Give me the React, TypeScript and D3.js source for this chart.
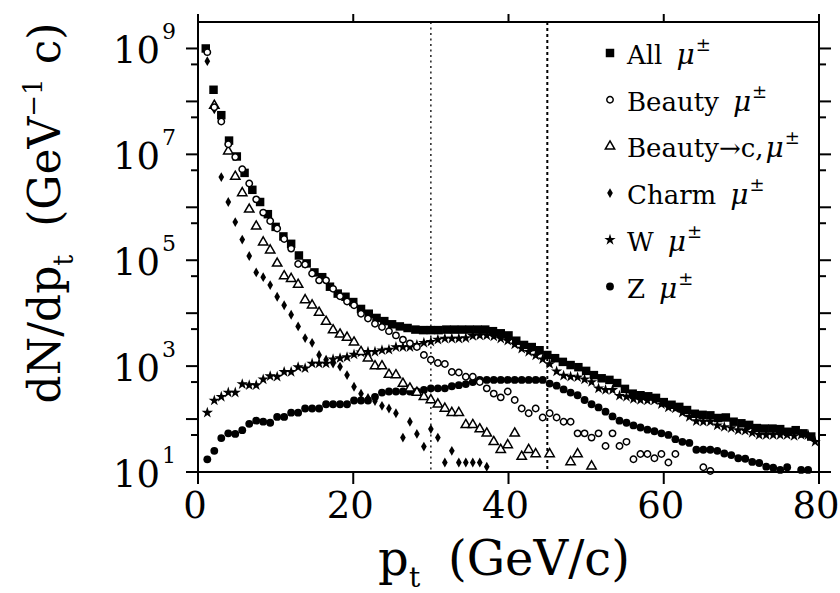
import React from "react";
import * as d3 from "d3";

// ---------------- data (log10 of dN/dpt) ----------------
const xTickValues = [0, 20, 40, 60, 80];
const yLabelExponents = [1, 3, 5, 7, 9];
const yMajorExponents = [1, 2, 3, 4, 5, 6, 7, 8, 9];
const yMinorMantissa = 5;
const cutValues = [30, 45];
const legendNames = ["All", "Beauty", "Beauty\u2192c,", "Charm", "W", "Z"];

// "All" is in 1 GeV bins starting at pt = 1
const allLog10 = [
  9.0, 8.22, 7.74, 7.26, 6.96, 6.65, 6.33, 6.1, 5.87, 5.63,
  5.45, 5.31, 5.09, 4.94, 4.77, 4.68, 4.5, 4.37, 4.31, 4.21,
  4.08, 3.99, 3.91, 3.85, 3.79, 3.75, 3.72, 3.69, 3.68, 3.68,
  3.68, 3.69, 3.69, 3.69, 3.69, 3.69, 3.69, 3.66, 3.62, 3.58,
  3.48, 3.4, 3.36, 3.3, 3.21, 3.15, 3.08, 3.02, 2.98, 2.91,
  2.83, 2.77, 2.74, 2.68, 2.57, 2.48, 2.45, 2.43, 2.4, 2.32,
  2.27, 2.23, 2.17, 2.1, 2.08, 2.07, 2.02, 2.03, 1.95, 1.92,
  1.89, 1.83, 1.82, 1.82, 1.81, 1.76, 1.79, 1.73, 1.67,
];

// the other sources are in 0.9 GeV bins
const beautyLog10 = [
  8.93, 7.89, 7.62, 7.19, 6.95, 6.72, 6.45, 6.15, 5.9, 5.74,
  5.6, 5.4, 5.22, 4.93, 4.92, 4.75, 4.62, 4.62, 4.46, 4.32,
  4.22, 4.15, 3.99, 3.9, 3.8, 3.74, 3.66, 3.58, 3.5, 3.43,
  3.36, 3.21, 3.12, 3.06, 3.04, 2.89, 2.88, 2.8, 2.8, 2.7,
  2.58, 2.48, 2.41, 2.52, 2.36, 2.2, 2.11, 2.2, 2.03, 2.11,
  2.03, 1.95, 1.95, 1.73, 1.73, 1.65, 1.73, 1.49, 1.73, 1.49,
  1.57, 1.24, 1.34, 1.34, 1.26, 1.34, 1.18, 1.34, null, null,
  null, 1.09, 1.02,
];

const beautyCLog10 = [
  null, 7.92, null, 7.06, 6.58, 6.27, 5.96, 5.64, 5.34, 5.19,
  4.94, 4.7, 4.65, 4.54, 4.25, 4.15, 4.01, 3.84, 3.68, 3.6,
  3.54, 3.45, 3.27, 3.15, 3.0, 3.0, 2.84, 2.83, 2.67, 2.58,
  2.5, 2.42, 2.36, 2.28, 2.2, 2.12, 2.12, 1.89, 1.89, 1.81,
  1.73, 1.57, 1.42, 1.51, 1.73, 1.29, 1.42, 1.34, null, 1.34,
  null, null, 1.19, 1.34, null, 1.11,
];

const charmLog10 = [
  8.76, 7.85, 6.57, 6.1, 5.72, 5.39, 5.08, 4.77, 4.68, 4.53,
  4.31, 4.15, 3.97, 3.75, 3.53, 3.44, 3.21, 3.12, 3.05, 2.99,
  2.83, 2.61, 2.48, 2.4, 2.34, 2.25, 2.2, 2.11, 1.65, 1.95,
  1.72, 1.48, 1.81, 1.65, 1.18, 1.4, 1.18, 1.18, 1.18, 1.18,
  1.1,
];

const wLog10 = [
  2.12, 2.35, 2.42, 2.5, 2.5, 2.66, 2.64, 2.64, 2.75, 2.81,
  2.8, 2.89, 2.89, 2.98, 2.96, 3.05, 3.05, 3.05, 3.13, 3.15,
  3.17, 3.22, 3.26, 3.27, 3.27, 3.3, 3.31, 3.36, 3.36, 3.36,
  3.4, 3.44, 3.46, 3.5, 3.52, 3.52, 3.52, 3.53, 3.57, 3.58,
  3.58, 3.56, 3.52, 3.48, 3.41, 3.33, 3.27, 3.2, 3.13, 3.04,
  2.9, 2.82, 2.8, 2.79, 2.75, 2.7, 2.58, 2.55, 2.55, 2.44,
  2.42, 2.38, 2.36, 2.35, 2.35, 2.28, 2.22, 2.2, 2.12, 2.04,
  1.96, 1.95, 1.95, 1.88, 1.85, 1.83, 1.79, 1.78, 1.74, 1.7,
  1.7, 1.7, 1.7, 1.7, 1.68, 1.7, 1.7, 1.57,
];

const zLog10 = [
  1.24, 1.4, 1.64, 1.73, 1.72, 1.79, 1.91, 1.97, 1.95, 1.93,
  2.04, 2.04, 2.12, 2.12, 2.2, 2.2, 2.2, 2.28, 2.28, 2.28,
  2.28, 2.35, 2.35, 2.35, 2.42, 2.5, 2.52, 2.52, 2.52, 2.52,
  2.52, 2.55, 2.58, 2.58, 2.58, 2.62, 2.64, 2.66, 2.7, 2.74,
  2.74, 2.74, 2.74, 2.74, 2.74, 2.74, 2.74, 2.74, 2.74, 2.67,
  2.63, 2.56, 2.5, 2.45, 2.36, 2.28, 2.22, 2.14, 2.05, 1.97,
  1.93, 1.88, 1.84, 1.8, 1.77, 1.73, 1.7, 1.62, 1.57, 1.55,
  1.42, 1.42, 1.42, 1.4, 1.35, 1.32, 1.26, 1.25, 1.19, 1.17,
  1.1, 1.08, 1.04, 1.09, null, 1.04, 1.04,
];

// ---------------- chart ----------------
const FONT = "'DejaVu Serif', 'Liberation Serif', serif";
const PLOT = { left: 198, right: 819, top: 22, bottom: 472 };

type Marker = { type: d3.SymbolType; size: number; fill: string; stroke: string; sw: number };

const markers: Marker[] = [
  { type: d3.symbolSquare, size: 72, fill: "#000", stroke: "none", sw: 0 },
  { type: d3.symbolCircle, size: 32, fill: "#fff", stroke: "#000", sw: 1.5 },
  { type: d3.symbolTriangle, size: 38, fill: "#fff", stroke: "#000", sw: 1.5 },
  { type: d3.symbolDiamond, size: 28, fill: "#000", stroke: "none", sw: 0 },
  { type: d3.symbolStar, size: 40, fill: "#000", stroke: "none", sw: 0 },
  { type: d3.symbolCircle, size: 48, fill: "#000", stroke: "none", sw: 0 },
];

export default function App() {
  const x = d3.scaleLinear().domain([0, 80]).range([PLOT.left, PLOT.right]);
  const y = d3.scaleLog().domain([10, Math.pow(10, 9.5)]).range([PLOT.bottom, PLOT.top]);

  const allBins = d3.range(1, allLog10.length + 1);
  const fineBin = (i: number) => 0.9 * (i + 1) + 0.3;

  const series = [
    { values: allLog10, xs: allBins, m: markers[0] },
    { values: charmLog10, xs: charmLog10.map((_, i) => fineBin(i)), m: markers[3] },
    { values: wLog10, xs: wLog10.map((_, i) => fineBin(i)), m: markers[4] },
    { values: zLog10, xs: zLog10.map((_, i) => fineBin(i)), m: markers[5] },
    { values: beautyCLog10, xs: beautyCLog10.map((_, i) => fineBin(i)), m: markers[2] },
    { values: beautyLog10, xs: beautyLog10.map((_, i) => fineBin(i)), m: markers[1] },
  ];

  const sym = (m: Marker) => d3.symbol().type(m.type).size(m.size)() as string;

  const legendY0 = 53;
  const legendStep = 46.7;

  return (
    <svg
      width={840}
      height={593}
      style={{ position: "absolute", left: 0, top: 0, background: "#fff" }}
      fontFamily={FONT}
    >
      <rect x={0} y={0} width={840} height={593} fill="#fff" />

      {/* cut lines */}
      <line x1={x(cutValues[0])} x2={x(cutValues[0])} y1={PLOT.top} y2={PLOT.bottom}
        stroke="#000" strokeWidth={1.3} strokeDasharray="2,3.5" />
      <line x1={x(cutValues[1])} x2={x(cutValues[1])} y1={PLOT.top} y2={PLOT.bottom}
        stroke="#000" strokeWidth={2} strokeDasharray="3,3" />

      {/* data */}
      {series.map((s, si) => (
        <g key={si}>
          {s.values.map((v, i) =>
            v == null ? null : (
              <path
                key={i}
                d={sym(s.m)}
                transform={`translate(${x(s.xs[i])},${y(Math.pow(10, v))})`}
                fill={s.m.fill}
                stroke={s.m.stroke}
                strokeWidth={s.m.sw}
              />
            )
          )}
        </g>
      ))}

      {/* frame */}
      <rect x={PLOT.left} y={PLOT.top} width={PLOT.right - PLOT.left} height={PLOT.bottom - PLOT.top}
        fill="none" stroke="#000" strokeWidth={2} />

      {/* y ticks (left + right) */}
      {yMajorExponents.map((e) => {
        const yy = y(Math.pow(10, e));
        return (
          <g key={"ym" + e} stroke="#000" strokeWidth={2}>
            <line x1={PLOT.left - 12} x2={PLOT.left} y1={yy} y2={yy} />
            <line x1={PLOT.right} x2={PLOT.right + 12} y1={yy} y2={yy} />
          </g>
        );
      })}
      {yMajorExponents.slice(0, -1).map((e) => {
        const yy = y(yMinorMantissa * Math.pow(10, e));
        return (
          <g key={"yn" + e} stroke="#000" strokeWidth={2}>
            <line x1={PLOT.left - 7} x2={PLOT.left} y1={yy} y2={yy} />
            <line x1={PLOT.right} x2={PLOT.right + 7} y1={yy} y2={yy} />
          </g>
        );
      })}

      {/* x ticks (bottom + top) */}
      {xTickValues.map((v) => (
        <g key={"xt" + v} stroke="#000" strokeWidth={2}>
          <line x1={x(v)} x2={x(v)} y1={PLOT.bottom} y2={PLOT.bottom + 12} />
          <line x1={x(v)} x2={x(v)} y1={PLOT.top - 8} y2={PLOT.top} />
        </g>
      ))}

      {/* y tick labels */}
      {yLabelExponents.map((e) => {
        const yy = y(Math.pow(10, e));
        return (
          <g key={"yl" + e}>
            <text x={160} y={yy + 15} fontSize={37} textAnchor="end">10</text>
            <text x={162} y={yy - 9} fontSize={22}>{e}</text>
          </g>
        );
      })}

      {/* x tick labels */}
      {xTickValues.map((v) => (
        <text key={"xl" + v} x={x(v) - 3} y={518} fontSize={37} textAnchor="middle">{v}</text>
      ))}

      {/* x title */}
      <text x={378} y={575} fontSize={48}>p</text>
      <text x={409} y={587} fontSize={28}>t</text>
      <text x={448} y={575} fontSize={48}>(GeV/c)</text>

      {/* y title */}
      <g transform="translate(60,213) rotate(-90)">
        <text x={0} y={0} fontSize={44} textAnchor="middle">
          dN/dp
          <tspan fontSize={27} dy={13}>t</tspan>
          <tspan dy={-13}>{"\u00A0\u00A0(GeV"}</tspan>
          <tspan fontSize={26} dy={-18}>{"\u22121"}</tspan>
          <tspan dy={18}>{"\u00A0c)"}</tspan>
        </text>
      </g>

      {/* legend */}
      {legendNames.map((name, i) => {
        const yc = legendY0 + i * legendStep;
        return (
          <g key={"lg" + i}>
            <path d={sym(markers[i])} transform={`translate(610,${yc})`}
              fill={markers[i].fill} stroke={markers[i].stroke} strokeWidth={markers[i].sw} />
            <text x={627} y={yc + 11} fontSize={26}>
              {name}
              <tspan fontStyle="italic" fontSize={28} dx={i === 2 ? 2 : 14}>{"\u03BC"}</tspan>
              <tspan fontSize={18} dy={-13} dx={1}>{"\u00B1"}</tspan>
            </text>
          </g>
        );
      })}
    </svg>
  );
}
